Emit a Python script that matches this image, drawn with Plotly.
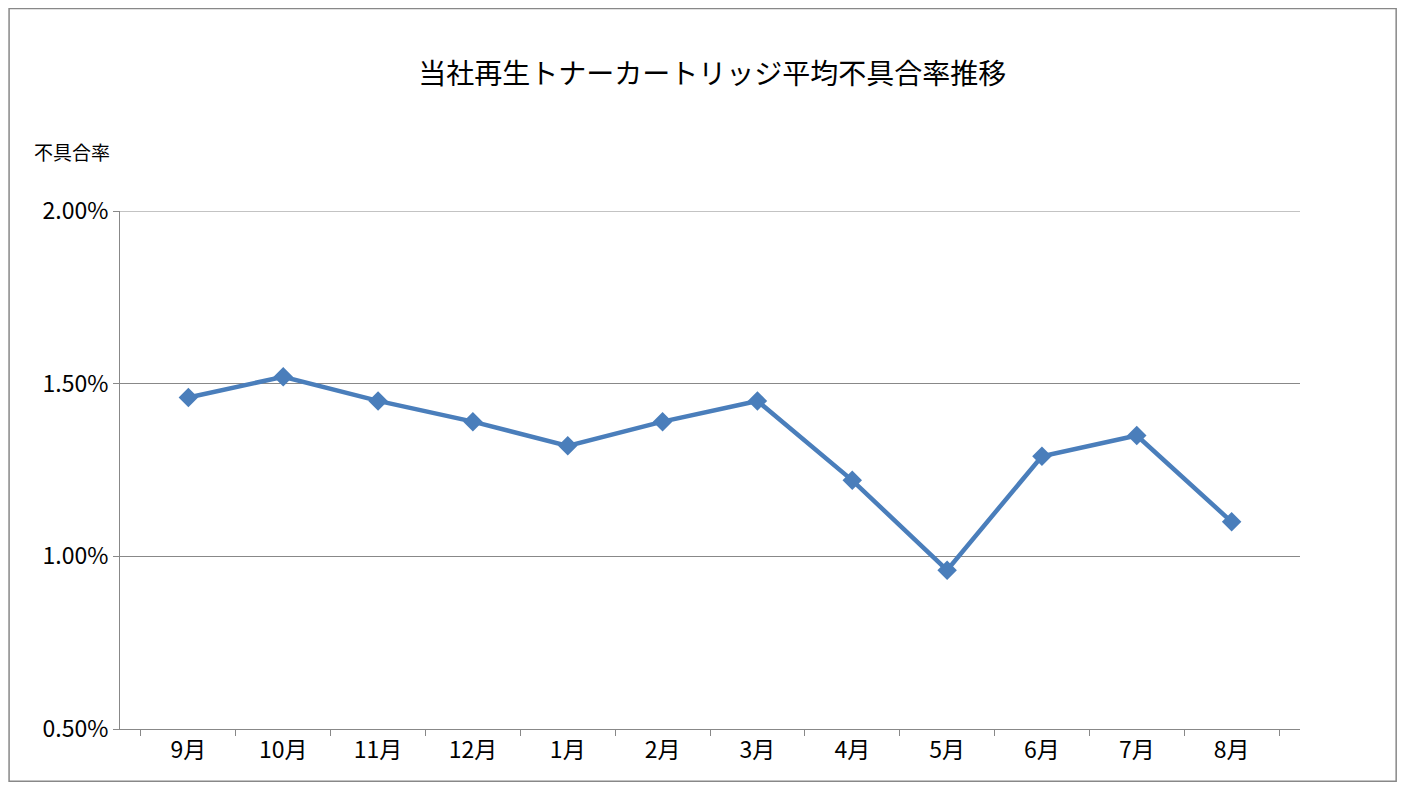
import plotly.graph_objects as go

months = ["9月", "10月", "11月", "12月", "1月", "2月", "3月", "4月", "5月", "6月", "7月", "8月"]
defect_rate = [0.0146, 0.0152, 0.0145, 0.0139, 0.0132, 0.0139, 0.0145, 0.0122, 0.0096, 0.0129, 0.0135, 0.0110]

font_family = "Noto Sans CJK JP"

fig = go.Figure()
fig.add_trace(go.Scatter(
    x=months, y=defect_rate, mode="lines+markers",
    line={'color': "#4a7ebb", 'width': 4.5},
    marker={'symbol': "diamond", 'size': 15, 'color': "#4a7ebb"},
    showlegend=False,
))

fig.update_layout(
    width=1389, height=774,
    paper_bgcolor="white", plot_bgcolor="white",
    margin={'l': 112, 'r': 97, 't': 203, 'b': 53},
    font={'family': font_family, 'size': 23, 'color': "black"},
    title={'text': "当社再生トナーカートリッジ平均不具合率推移", 'x': 0.507, 'xanchor': "center",
           'y': 0.915, 'yanchor': "middle", 'font': {'size': 28}},
    xaxis={'tickson': "boundaries", 'ticks': "outside", 'ticklen': 6, 'tickcolor': "#888",
           'showline': True, 'linecolor': "#888", 'showgrid': False},
    yaxis={'range': [0.005, 0.02], 'dtick': 0.005, 'tickformat': ".2%",
           'showgrid': True, 'gridcolor': "#888", 'showline': True, 'linecolor': "#888",
           'ticks': "outside", 'ticklen': 6, 'tickcolor': "#888", 'zeroline': False},
    shapes=[
        {'type': "rect", 'xref': "paper", 'yref': "paper",
         'x0': -0.094, 'x1': 1.0815, 'y0': -0.101, 'y1': 1.391,
         'line': {'color': "#888", 'width': 1.5}},
        {'type': "line", 'xref': "paper", 'yref': "y", 'x0': 0, 'x1': 1,
         'y0': 0.02, 'y1': 0.02, 'line': {'color': "#888", 'width': 1}},
    ],
    annotations=[{'text': "不具合率", 'xref': "paper", 'yref': "paper", 'x': -0.075, 'y': 1.145,
                  'xanchor': "left", 'showarrow': False, 'font': {'size': 19}}],
)

fig.write_html("out.html")
